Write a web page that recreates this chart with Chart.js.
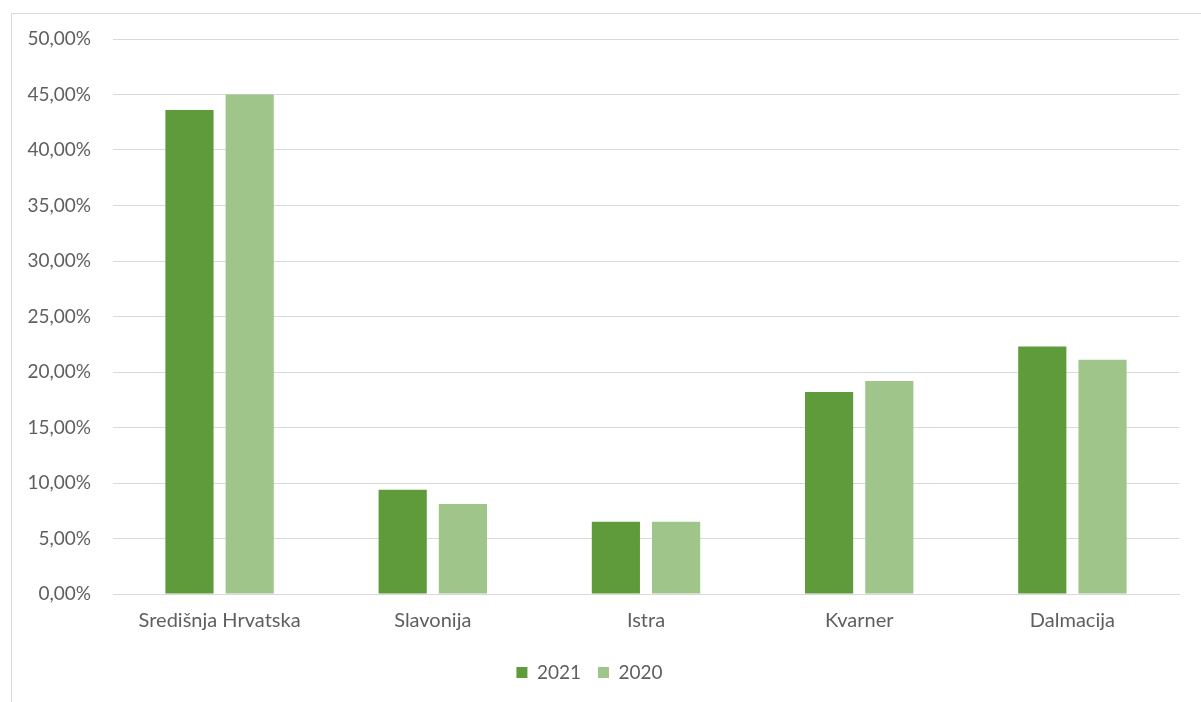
<!DOCTYPE html>
<html>
<head>
<meta charset="utf-8">
<script src="https://cdn.jsdelivr.net/npm/chart.js@4.4.0/dist/chart.umd.min.js"></script>
<style>
  html, body { margin: 0; padding: 0; background: #fff; }
  #wrap { position: relative; width: 1201px; height: 702px; }
  #frame {
    position: absolute; left: 11px; top: 13px; right: -2px; bottom: -2px;
    border: 1px solid #d9d9d9; pointer-events: none;
  }
  canvas { position: absolute; left: 0; top: 0; }
</style>
</head>
<body>
<div id="wrap">
  <canvas id="myChart" width="1201" height="702"></canvas>
  <div id="frame"></div>
</div>
<script>
const regions = ["Središnja Hrvatska", "Slavonija", "Istra", "Kvarner", "Dalmacija"];
const share2021 = [43.6, 9.4, 6.5, 18.2, 22.3];
const share2020 = [45.0, 8.1, 6.5, 19.2, 21.1];
const yTicks = [0, 5, 10, 15, 20, 25, 30, 35, 40, 45, 50];

const textColor = "#5f5f5f";
const family = "Lato, 'Open Sans', sans-serif";

function pct(v) {
  return v.toFixed(2).replace(".", ",") + "%";
}

const ctx = document.getElementById("myChart").getContext("2d");
new Chart(ctx, {
  type: "bar",
  data: {
    labels: regions,
    datasets: [
      {
        label: "2021",
        data: share2021,
        backgroundColor: "#609b3b",
        barPercentage: 0.8,
        categoryPercentage: 0.565,
      },
      {
        label: "2020",
        data: share2020,
        backgroundColor: "#a0c58b",
        barPercentage: 0.8,
        categoryPercentage: 0.565,
      },
    ],
  },
  options: {
    responsive: false,
    animation: false,
    layout: {
      padding: { top: 39, right: 22, bottom: 10, left: 0 },
    },
    plugins: {
      legend: {
        position: "bottom",
        labels: {
          color: textColor,
          font: { family: family, size: 19 },
          boxWidth: 11,
          boxHeight: 11,
          padding: 17,
        },
      },
      tooltip: { enabled: false },
    },
    scales: {
      x: {
        grid: { display: false },
        border: { display: true, color: "#d9d9d9" },
        ticks: { color: textColor, font: { family: family, size: 20 }, padding: 7 },
        afterFit(axis) {
          axis.height = 52;
        },
      },
      y: {
        min: 0,
        max: 50,
        afterBuildTicks(axis) {
          axis.ticks = yTicks.map((v) => ({ value: v }));
        },
        grid: { color: "#d9d9d9", drawTicks: false },
        border: { display: false },
        ticks: {
          color: textColor,
          font: { family: family, size: 19 },
          padding: 22,
          callback: (v) => pct(v),
        },
        afterFit(axis) {
          axis.width = 113;
        },
      },
    },
  },
});
</script>
</body>
</html>
